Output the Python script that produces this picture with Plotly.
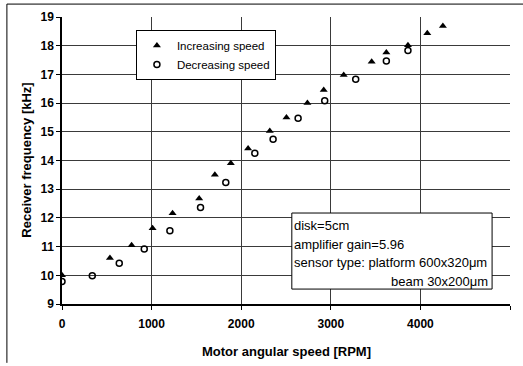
import plotly.graph_objects as go

inc_rpm = [0, 535, 777, 1011, 1234, 1531, 1706, 1884, 2077, 2319, 2505, 2739, 2921, 3144, 3456, 3620, 3861, 4077, 4251]
inc_khz = [10.0, 10.6, 11.05, 11.64, 12.16, 12.68, 13.5, 13.9, 14.42, 15.03, 15.5, 16.0, 16.46, 16.98, 17.44, 17.76, 18.02, 18.43, 18.69]
dec_rpm = [0, 338, 639, 918, 1204, 1546, 1828, 2152, 2356, 2635, 2932, 3278, 3620, 3861]
dec_khz = [9.78, 9.98, 10.42, 10.92, 11.55, 12.36, 13.23, 14.25, 14.74, 15.47, 16.08, 16.83, 17.47, 17.83]

x_ticks = [0, 1000, 2000, 3000, 4000, 5000]
y_ticks = [9, 10, 11, 12, 13, 14, 15, 16, 17, 18, 19]

x_title = "Motor angular speed [RPM]"
y_title = "Receiver frequency [kHz]"
info_lines = ["disk=5cm", "amplifier gain=5.96", "sensor type: platform 600x320μm"]
info_last = "beam 30x200μm"

FONT = "Liberation Sans"

fig = go.Figure()
fig.add_trace(go.Scatter(x=inc_rpm, y=inc_khz, mode="markers", name="Increasing speed",
                         marker=dict(symbol="triangle-up", size=7, color="black")))
fig.add_trace(go.Scatter(x=dec_rpm, y=dec_khz, mode="markers", name="Decreasing speed",
                         marker=dict(symbol="circle-open", size=6, color="black", line=dict(width=1.5))))

fig.update_layout(
    width=523, height=366,
    margin=dict(l=62, r=13, t=17, b=62, autoexpand=False),
    paper_bgcolor="white", plot_bgcolor="white",
    font=dict(family=FONT, size=11, color="black"),
    showlegend=True,
    legend=dict(x=0.165, y=0.955, xanchor="left", yanchor="top",
                bgcolor="white", bordercolor="black", borderwidth=1,
                font=dict(family=FONT, size=11.5, color="black"),
                itemwidth=30, tracegroupgap=0),
)
fig.update_xaxes(range=[0, 5000], tickvals=x_ticks, ticktext=[str(v) for v in x_ticks],
                 showgrid=True, gridcolor="#3a3a3a", gridwidth=1, automargin=False,
                 showline=True, linecolor="black", linewidth=1.5, mirror=False,
                 ticks="outside", ticklen=4, tickcolor="black", zeroline=False,
                 ticklabelstandoff=4,
                 tickfont=dict(family=FONT, size=12, color="black", weight="bold"))
fig.update_yaxes(range=[9, 19], tickvals=y_ticks, ticktext=[str(v) for v in y_ticks],
                 showgrid=True, gridcolor="#3a3a3a", gridwidth=1, automargin=False,
                 showline=True, linecolor="black", linewidth=1.5, mirror=False,
                 ticks="outside", ticklen=4, tickcolor="black", zeroline=False,
                 tickfont=dict(family=FONT, size=12, color="black", weight="bold"))

# axis titles
fig.add_annotation(xref="paper", yref="paper", x=0.5, y=-0.164, text="<b>" + x_title + "</b>",
                   showarrow=False, xanchor="center", yanchor="middle",
                   font=dict(family=FONT, size=13, color="black"))
fig.add_annotation(xref="paper", yref="paper", x=-0.080, y=0.5, text="<b>" + y_title + "</b>",
                   showarrow=False, xanchor="center", yanchor="middle", textangle=-90,
                   font=dict(family=FONT, size=13, color="black"))

# info box
fig.add_shape(type="rect", xref="paper", yref="paper", x0=0.513, x1=0.960, y0=0.052, y1=0.317,
              line=dict(color="black", width=1), fillcolor="white", layer="above")
ys = [0.275, 0.209, 0.146]
for t, yy in zip(info_lines, ys):
    fig.add_annotation(xref="paper", yref="paper", x=0.514, y=yy, text=t, showarrow=False,
                       xanchor="left", yanchor="middle", font=dict(family=FONT, size=13, color="black"))
fig.add_annotation(xref="paper", yref="paper", x=0.955, y=0.080, text=info_last, showarrow=False,
                   xanchor="right", yanchor="middle", font=dict(family=FONT, size=13, color="black"))

# outer frame (scanned figure border)
fig.add_shape(type="line", xref="paper", yref="paper", x0=-0.123, x1=1.03, y0=1.045, y1=1.045,
              line=dict(color="black", width=1))
fig.add_shape(type="line", xref="paper", yref="paper", x0=-0.123, x1=-0.123, y0=1.045, y1=-0.205,
              line=dict(color="black", width=1))

fig.write_html("out.html")
